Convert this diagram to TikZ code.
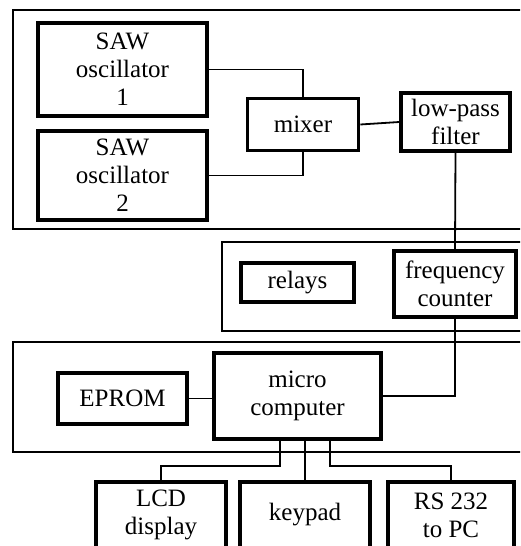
\documentclass[tikz,border=0pt]{standalone}
\usepackage{fontspec}
\setmainfont{Liberation Serif}
\usetikzlibrary{calc}
\begin{document}
\begin{tikzpicture}[x=1pt,y=-1pt,
  blk/.style={draw,line width=3.6pt,rectangle,align=center,inner sep=0pt,
    font=\fontsize{25}{28}\selectfont},
  panel/.style={draw,line width=1.3pt},
  wire/.style={draw,line width=1.8pt}]
\useasboundingbox (0,0) rectangle (520,546);
\clip (0,0) rectangle (520,546);
\fill[white] (0,0) rectangle (520,546);
% panels
\draw[panel] (530,10) -- (13,10) -- (13,229) -- (530,229);
\draw[panel] (530,242) -- (222,242) -- (222,331) -- (530,331);
\draw[panel] (530,342) -- (13,342) -- (13,452) -- (530,452);
% blocks
\node[blk,minimum width=169,minimum height=93] (saw1) at (122.5,69.5) {SAW\\oscillator\\1};
\node[blk,minimum width=169,minimum height=89] (saw2) at (122.5,175.5) {SAW\\oscillator\\2};
\node[blk,minimum width=111,minimum height=52] (mixer) at (303,124.5) {mixer};
\node[blk,minimum width=109,minimum height=58] (lpf) at (455.5,122) {low-pass\\filter};
\node[blk,minimum width=113,minimum height=39] (relays) at (297.5,282.5) {relays};
\node[blk,minimum width=122,minimum height=66] (freq) at (455,284) {frequency\\counter};
\node[blk,minimum width=129,minimum height=51] (eprom) at (122.5,398.5) {EPROM};
\node[blk,minimum width=167,minimum height=86] (micro) at (297.5,396) {micro\\computer};
\node[blk,minimum width=130,minimum height=66] (lcd) at (161,515) {LCD\\display};
\node[blk,minimum width=130,minimum height=66] (keypad) at (305,515) {keypad};
\node[blk,minimum width=126,minimum height=66] (rs) at (451,515) {RS 232\\to PC};
% connectors
\draw[wire] (saw1.east) -| (mixer.north);
\draw[wire] (saw2.east) -| (mixer.south);
\draw[wire] (mixer.east) -- (lpf.west);
\draw[wire] (lpf.south) -- (freq.north);
\draw[wire] (freq.south) |- (micro.east);
\draw[wire] (eprom.east) -- (eprom.east -| micro.west);
\coordinate (mL) at ($(micro.south)+(-17.5,0)$);
\coordinate (mR) at ($(micro.south)+(32.5,0)$);
\coordinate (bL) at ($(mL)+(0,25)$);
\coordinate (bR) at ($(mR)+(0,25)$);
\draw[wire] (mL) -- (bL) -| (lcd.north);
\draw[wire] (mR) -- (bR) -| (rs.north);
\draw[wire] (keypad.north) -- (keypad.north |- micro.south);
\end{tikzpicture}
\end{document}
